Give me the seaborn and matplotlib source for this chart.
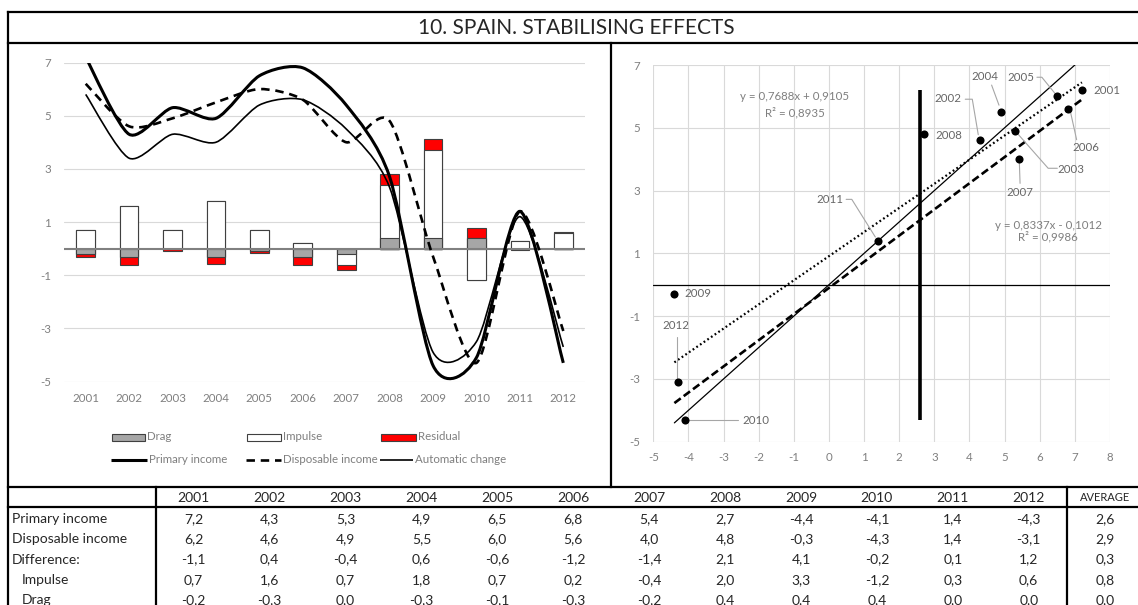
import numpy as np
import matplotlib
matplotlib.use("Agg")
import matplotlib.pyplot as plt
import seaborn as sns
from matplotlib.path import Path
from matplotlib.patches import PathPatch, Rectangle
from matplotlib import font_manager as fm

# ---------------- data ----------------
years = ["2001", "2002", "2003", "2004", "2005", "2006",
         "2007", "2008", "2009", "2010", "2011", "2012"]
primary_income = [7.2, 4.3, 5.3, 4.9, 6.5, 6.8, 5.4, 2.7, -4.4, -4.1, 1.4, -4.3]
disposable_income = [6.2, 4.6, 4.9, 5.5, 6.0, 5.6, 4.0, 4.8, -0.3, -4.3, 1.4, -3.1]
automatic_change = [5.8, 3.4, 4.3, 4.0, 5.4, 5.6, 4.5, 2.3, -3.9, -3.5, 1.2, -3.7]
difference = [-1.1, 0.4, -0.4, 0.6, -0.6, -1.2, -1.4, 2.1, 4.1, -0.2, 0.1, 1.2]
impulse = [0.7, 1.6, 0.7, 1.8, 0.7, 0.2, -0.4, 2.0, 3.3, -1.2, 0.3, 0.6]
drag = [-0.2, -0.3, 0.0, -0.3, -0.1, -0.3, -0.2, 0.4, 0.4, 0.4, 0.0, 0.0]
residual = [-0.12, -0.3, -0.1, -0.28, -0.05, -0.33, -0.2, 0.42, 0.42, 0.37, -0.06, 0.03]

averages = {"Primary income": 2.6, "Disposable income": 2.9, "Difference:": 0.3,
            "Impulse": 0.8, "Drag": 0.0}

trend_disp = (0.7688, 0.9105, 0.8935)   # slope, intercept, R2
trend_auto = (0.8337, -0.1012, 0.9986)

title = "10. SPAIN. STABILISING EFFECTS"

# ---------------- style ----------------
sns.set_theme(style="white")
avail = {f.name for f in fm.fontManager.ttflist}
FONT = next((f for f in ["Lato", "Liberation Sans Narrow", "DejaVu Sans"] if f in avail), "DejaVu Sans")
plt.rcParams["font.family"] = [FONT, "DejaVu Sans"]
plt.rcParams["axes.unicode_minus"] = False

GREY_TXT = "#7f7f7f"
GRID = "#d9d9d9"
EDGE = "#404040"
BAR_GREY = "#a6a6a6"
BAR_RED = "#ff0000"
SMALL = 8.3

W, H = 1138, 605
fig = plt.figure(figsize=(W / 100, H / 100), dpi=100)
fig.patch.set_facecolor("white")


def box(x0, y0, x1, y1):
    """pixel box (origin top-left) -> figure fraction rect"""
    return [x0 / W, 1 - y1 / H, (x1 - x0) / W, (y1 - y0) / H]


def smooth_path(xs, ys, f=0.13):
    """Bezier path through the points (spreadsheet-style smoothed line)."""
    pts = np.column_stack([xs, ys]).astype(float)
    n = len(pts)
    verts = [pts[0]]
    codes = [Path.MOVETO]
    for i in range(n - 1):
        p0 = pts[i - 1] if i > 0 else pts[i]
        p1, p2 = pts[i], pts[i + 1]
        p3 = pts[i + 2] if i + 2 < n else pts[i + 1]
        verts += [p1 + (p2 - p0) * f, p2 - (p3 - p1) * f, p2]
        codes += [Path.CURVE4] * 3
    return Path(verts, codes)


# ---------------- left panel: bars and smoothed lines ----------------
ax1 = fig.add_axes(box(64, 62.5, 585, 381.5))
d, im, r = (np.array(v, dtype=float) for v in (drag, impulse, residual))
pos = lambda a: np.clip(a, 0, None)
neg = lambda a: np.clip(a, None, 0)
layers = [
    (pos(d) + pos(im) + pos(r), BAR_RED), (pos(d) + pos(im), "white"), (pos(d), BAR_GREY),
    (neg(d) + neg(im) + neg(r), BAR_RED), (neg(d) + neg(im), "white"), (neg(d), BAR_GREY),
]
for heights, col in layers:
    sns.barplot(x=years, y=heights, color=col, saturation=1, width=0.43,
                edgecolor=EDGE, linewidth=0.8, errorbar=None, ax=ax1, zorder=2)

ax1.axhline(0, color="#808080", lw=1.5, zorder=3)
xs = np.arange(len(years))
for vals, lw, ls in [(automatic_change, 1.2, "-"),
                     (disposable_income, 1.9, (0, (3.2, 2.2))),
                     (primary_income, 2.2, "-")]:
    ax1.add_patch(PathPatch(smooth_path(xs, vals), fill=False, edgecolor="black",
                            lw=lw, linestyle=ls, capstyle="butt", zorder=4))

ax1.set_xlim(-0.5, len(years) - 0.5)
ax1.set_ylim(-5, 7)
ax1.set_yticks([-5, -3, -1, 1, 3, 5, 7], ["-5", "-3", "-1", "1", "3", "5", "7"])
ax1.set_xticks(xs, years)
ax1.grid(axis="y", color=GRID, lw=0.8)
ax1.grid(axis="x", visible=False)
ax1.set_axisbelow(True)
ax1.set_xlabel("")
ax1.set_ylabel("")
ax1.tick_params(axis="x", length=0, labelsize=SMALL, labelcolor=GREY_TXT, pad=8)
ax1.tick_params(axis="y", length=0, labelsize=SMALL, labelcolor=GREY_TXT, pad=9.5)
for s in ax1.spines.values():
    s.set_visible(False)

# ---------------- right panel: scatter with trend lines ----------------
ax2 = fig.add_axes(box(653.3, 65, 1110, 441.7))
ax2.set_xlim(-5, 8)
ax2.set_ylim(-5, 7)
ax2.set_xticks(range(-5, 9), [str(v) for v in range(-5, 9)])
ax2.set_yticks([-5, -3, -1, 1, 3, 5, 7], ["-5", "-3", "-1", "1", "3", "5", "7"])
ax2.grid(True, color=GRID, lw=0.8)
ax2.set_axisbelow(True)
for s in ax2.spines.values():
    s.set_visible(False)
ax2.tick_params(axis="x", length=0, labelsize=SMALL, labelcolor=GREY_TXT, pad=7.5)
ax2.tick_params(axis="y", length=0, labelsize=SMALL, labelcolor=GREY_TXT, pad=9.5)
ax2.axhline(0, color="black", lw=0.9, zorder=2)

xmin, xmax = min(primary_income), max(primary_income)
xr = np.array([xmin, xmax])
ax2.plot(xr, xr, color="black", lw=0.9, zorder=3)
ax2.plot(xr, trend_disp[0] * xr + trend_disp[1], color="black", lw=1.6,
         linestyle=(0, (0.8, 1.2)), zorder=3)
ax2.plot(xr, trend_auto[0] * xr + trend_auto[1], color="black", lw=1.9,
         linestyle=(0, (3.0, 1.4)), zorder=3)
ax2.plot([averages["Primary income"]] * 2, [min(disposable_income), max(disposable_income)],
         color="black", lw=2.6, solid_capstyle="butt", zorder=3)

sns.scatterplot(x=primary_income, y=disposable_income, color="black", s=34,
                linewidth=0, ax=ax2, zorder=5)

label_pos = {
    "2001": (7.9, 6.18, None),
    "2002": (3.40, 5.94, [(3.88, 5.91), (4.08, 5.91), (4.25, 4.78)]),
    "2004": (4.44, 6.63, [(4.63, 6.36), (4.84, 5.72)]),
    "2005": (5.47, 6.61, [(5.92, 6.61), (6.06, 6.61), (6.43, 6.1)]),
    "2006": (7.32, 4.38, [(7.05, 4.62), (6.88, 5.48)]),
    "2003": (6.90, 3.68, [(6.5, 3.71), (6.24, 3.71), (5.38, 4.8)]),
    "2007": (5.44, 2.93, [(5.44, 3.23), (5.42, 3.88)]),
    "2008": (3.40, 4.77, None),
    "2011": (0.03, 2.72, [(0.49, 2.72), (0.65, 2.72), (1.32, 1.52)]),
    "2009": (-3.74, -0.27, None),
    "2012": (-4.36, -1.31, [(-4.33, -1.66), (-4.33, -2.98)]),
    "2010": (-2.09, -4.33, [(-2.6, -4.31), (-3.98, -4.31)]),
}
for yr, (tx, ty, leader) in label_pos.items():
    ax2.text(tx, ty, yr, ha="center", va="center", fontsize=SMALL, color="#666666", zorder=6)
    if leader:
        lx, ly = zip(*leader)
        ax2.plot(lx, ly, color="#a6a6a6", lw=0.8, zorder=4)


def fmt(v, nd=4):
    return f"{v:.{nd}f}".replace(".", ",")


ax2.text(-0.97, 6.01, f"y = {fmt(trend_disp[0])}x + {fmt(trend_disp[1])}",
         ha="center", va="center", fontsize=SMALL, color=GREY_TXT)
ax2.text(-0.97, 5.49, f"R² = {fmt(trend_disp[2])}", ha="center", va="center",
         fontsize=SMALL, color=GREY_TXT)
sign = "-" if trend_auto[1] < 0 else "+"
ax2.text(6.24, 1.88, f"y = {fmt(trend_auto[0])}x {sign} {fmt(abs(trend_auto[1]))}",
         ha="center", va="center", fontsize=SMALL, color=GREY_TXT)
ax2.text(6.24, 1.53, f"R² = {fmt(trend_auto[2])}", ha="center", va="center",
         fontsize=SMALL, color=GREY_TXT)

# ---------------- frame, title, legend and table ----------------
axo = fig.add_axes([0, 0, 1, 1], zorder=10)
axo.set_xlim(0, W)
axo.set_ylim(H, 0)
axo.axis("off")
axo.patch.set_alpha(0)

LW = 1.6
frame = [([8, W], [12, 12]), ([8, 8], [12, H]), ([8, W], [42.5, 42.5]),
         ([611, 611], [42.5, 487.3]), ([8, W], [487.3, 487.3]), ([8, W], [507.3, 507.3]),
         ([155.7, 155.7], [487.3, H]), ([1066.7, 1066.7], [487.3, H])]
for fx, fy in frame:
    axo.plot(fx, fy, color="black", lw=LW, solid_capstyle="projecting")

axo.text(576, 27.5, title, ha="center", va="center", fontsize=15, color="#262626")

# legend
leg_txt = dict(ha="left", va="center", fontsize=SMALL, color=GREY_TXT)
for x0, x1, col, lab in [(112, 145, BAR_GREY, "Drag"), (247, 281, "white", "Impulse"),
                         (381.5, 416, BAR_RED, "Residual")]:
    axo.add_patch(Rectangle((x0, 434), x1 - x0, 6.5, facecolor=col, edgecolor=EDGE, lw=0.8))
    axo.text(x1 + 2.5, 437, lab, **leg_txt)
for x0, x1, lw, ls, lab in [(110.7, 147, 2.2, "-", "Primary income"),
                            (246, 281, 1.9, (0, (3.2, 2.2)), "Disposable income"),
                            (379.6, 413, 1.2, "-", "Automatic change")]:
    axo.plot([x0, x1], [459.5, 459.5], color="black", lw=lw, linestyle=ls, solid_capstyle="butt")
    axo.text(x1 + 2, 459.5, lab, **leg_txt)

# table
col_w = (1066.7 - 155.7) / len(years)
TXT = "#262626"
for i, yr in enumerate(years):
    axo.text(155.7 + col_w * (i + 0.5), 497.7, yr, ha="center", va="center", fontsize=10, color=TXT)
axo.text(1105, 497.7, "AVERAGE", ha="center", va="center", fontsize=8, color=TXT)
rows = [("Primary income", primary_income, 12),
        ("Disposable income", disposable_income, 12),
        ("Difference:", difference, 12),
        ("Impulse", impulse, 21.7),
        ("Drag", drag, 21.7)]
for k, (name, vals, indent) in enumerate(rows):
    y = 519 + k * 20.3
    axo.text(indent, y, name, ha="left", va="center", fontsize=10, color=TXT)
    for i, v in enumerate(vals):
        axo.text(155.7 + col_w * (i + 0.5), y, fmt(v, 1), ha="center", va="center",
                 fontsize=10, color=TXT)
    axo.text(1105, y, fmt(averages[name], 1), ha="center", va="center", fontsize=10, color=TXT)

fig.savefig("out.png", dpi=100)
